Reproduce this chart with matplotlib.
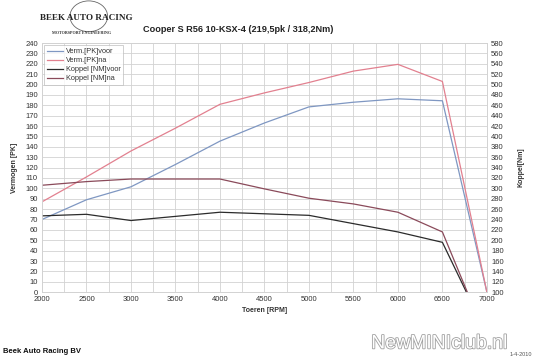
import matplotlib
matplotlib.use("Agg")
import matplotlib.pyplot as plt
from matplotlib.patches import Ellipse
import matplotlib.patheffects as pe

plt.rcParams['font.family'] = ['Liberation Sans', 'DejaVu Sans']

# Data
rpm_pk = [2000, 2500, 3000, 3500, 4000, 4500, 5000, 5500, 6000, 6500, 7000]
pk_voor = [70, 89, 101.5, 123, 145.5, 163, 178.5, 183, 186.3, 184.4, 0]
pk_na = [87, 111, 136, 158, 181, 192, 202, 213, 219.5, 203, 0]

rpm_nm_voor = [2000, 2500, 3000, 3500, 4000, 4500, 5000, 5500, 6000, 6500, 6770]
nm_voor = [247, 250, 238, 246, 254, 251, 248, 232, 216, 196, 100]
rpm_nm_na = [2000, 2500, 3000, 3500, 4000, 4500, 5000, 5500, 6000, 6500, 6780]
nm_na = [306, 313, 318, 318, 318, 299, 281, 270, 254, 216, 100]

labels = ["Verm.[PK]voor", "Verm.[PK]na", "Koppel [NM]voor", "Koppel [NM]na"]
xticks = list(range(2000, 7001, 500))

fig = plt.figure(figsize=(5.38, 3.62), dpi=100)
fig.patch.set_facecolor('white')
ax = fig.add_axes([0.078, 0.193, 0.827, 0.688])
ax2 = ax.twinx()

tc = '#333333'
gc = '#d2d2d2'

ax.set_xlim(2000, 7000)
ax.set_ylim(0, 240)
ax2.set_ylim(100, 580)
ax.set_xticks(xticks)
ax.set_xticks(range(2000, 7001, 250), minor=True)
ax.set_yticks(range(0, 241, 10))
ax2.set_yticks(range(100, 581, 20))
ax.grid(True, which='both', color=gc, linewidth=0.6)
ax.set_axisbelow(True)

for a in (ax, ax2):
    a.tick_params(axis='both', which='both', length=0, labelsize=5.5, colors=tc, pad=3)
    for s in a.spines.values():
        s.set_color(gc)
        s.set_linewidth(0.6)

l1, = ax.plot(rpm_pk, pk_voor, color='#7f97c2', lw=0.9)
l2, = ax.plot(rpm_pk, pk_na, color='#e2808f', lw=0.9)
l3, = ax2.plot(rpm_nm_voor, nm_voor, color='#2b2b2b', lw=0.9)
l4, = ax2.plot(rpm_nm_na, nm_na, color='#8a4a5a', lw=0.9)

leg = ax2.legend([l1, l2, l3, l4], labels, loc='upper left', fontsize=5.3,
                 frameon=True, fancybox=False, borderpad=0.4, labelspacing=0.25,
                 handlelength=2.2, handletextpad=0.3, borderaxespad=0.3)
leg.get_frame().set_edgecolor('#bbbbbb')
leg.get_frame().set_linewidth(0.6)
for t in leg.get_texts():
    t.set_color(tc)

ax.set_xlabel("Toeren [RPM]", fontsize=5, fontweight='bold', color=tc, labelpad=3)
ax.set_ylabel("Vermogen [PK]", fontsize=5, fontweight='bold', color=tc, labelpad=5)
ax2.set_ylabel("Koppel[Nm]", fontsize=5, fontweight='bold', color=tc, labelpad=10)

fig.text(0.442, 0.918, "Cooper S R56 10-KSX-4 (219,5pk / 318,2Nm)", fontsize=6.6,
         fontweight='bold', color='#222222', ha='center', va='center')

# Logo
fig.text(0.075, 0.95, "BEEK AUTO RACING", fontsize=6.6, fontweight='bold',
         family='Liberation Serif', color='#222222', ha='left', va='center')
fig.text(0.097, 0.908, "MOTORSPORT ENGINEERING", fontsize=3.0, fontweight='bold',
         family='Liberation Serif', color='#333333', ha='left', va='center')
fig.add_artist(Ellipse((0.165, 0.955), 0.07, 0.085, transform=fig.transFigure,
                       fill=False, edgecolor='#666666', lw=0.6))

fig.text(0.006, 0.028, "Beek Auto Racing BV", fontsize=5.5, fontweight='bold',
         color='#111111', ha='left', va='center')
fig.text(0.948, 0.022, "1-4-2010", fontsize=4, color='#555555', ha='left', va='center')
fig.text(0.69, 0.05, "NewMINIclub.nl", fontsize=14, color='white', ha='left',
         va='center', path_effects=[pe.withStroke(linewidth=1.2, foreground='#a0a0a0')])

fig.savefig("out.png", dpi=100)
